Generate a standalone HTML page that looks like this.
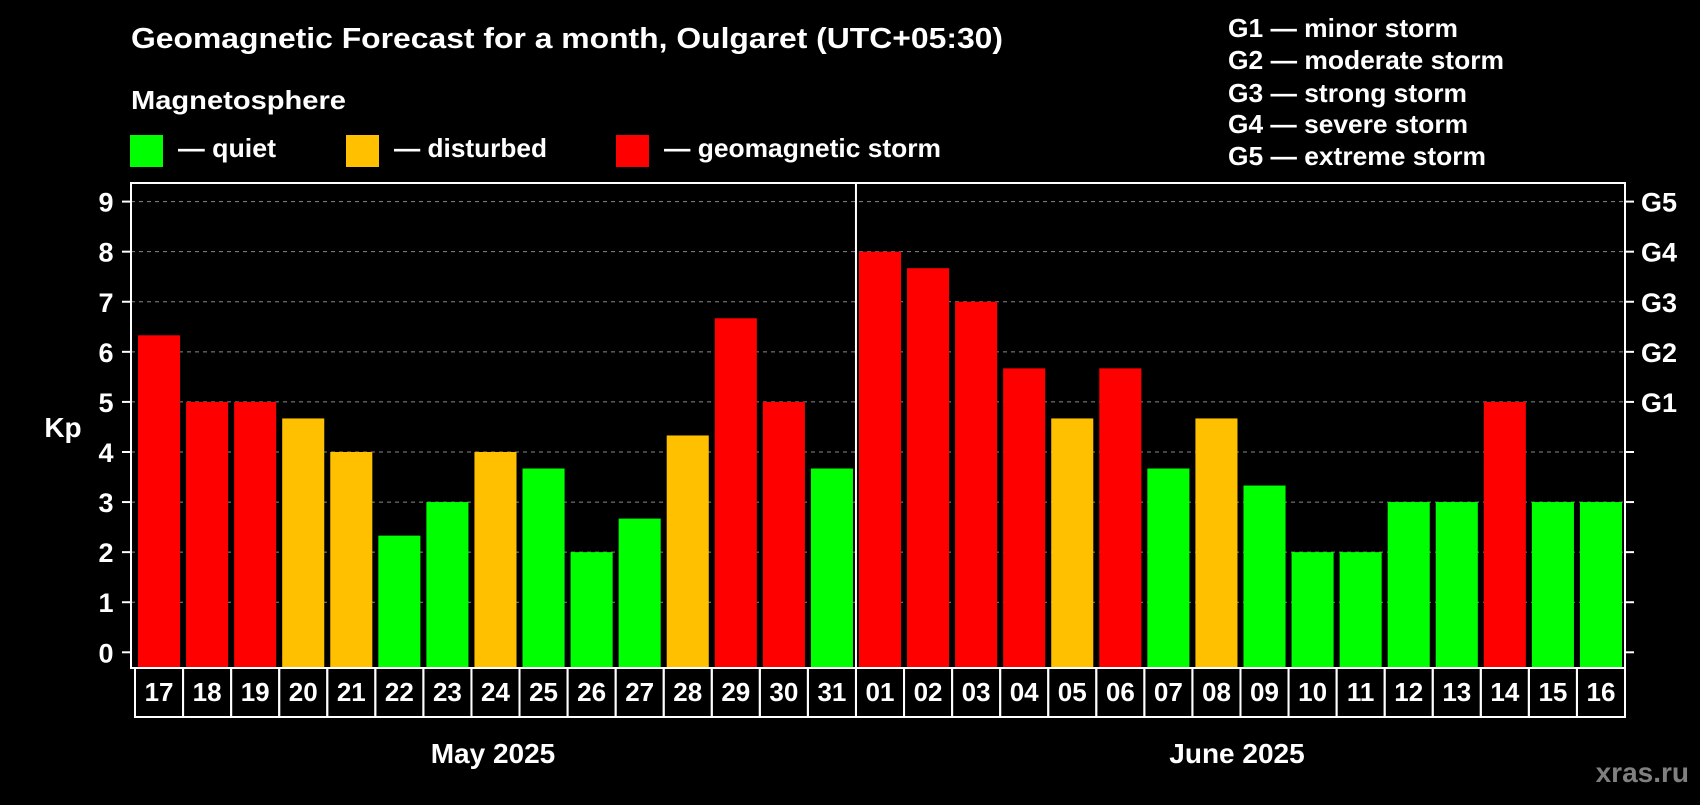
<!DOCTYPE html>
<html><head><meta charset="utf-8"><style>
html,body{margin:0;padding:0;background:#000;}
svg text{font-family:"Liberation Sans",sans-serif;font-weight:bold;fill:#fff;}
</style></head><body>
<svg id="chart" width="1700" height="800" viewBox="0 0 1700 800">
<text x="131" y="48" font-size="29" textLength="872" lengthAdjust="spacingAndGlyphs">Geomagnetic Forecast for a month, Oulgaret (UTC+05:30)</text>
<text x="131" y="109" font-size="26" textLength="215" lengthAdjust="spacingAndGlyphs">Magnetosphere</text>
<g>
<rect x="130" y="135" width="33" height="32" fill="#00ff00"/>
<text x="178" y="157" font-size="26" textLength="98" lengthAdjust="spacingAndGlyphs">— quiet</text>
<rect x="346" y="135" width="33" height="32" fill="#ffc000"/>
<text x="394" y="157" font-size="26" textLength="153" lengthAdjust="spacingAndGlyphs">— disturbed</text>
<rect x="616" y="135" width="33" height="32" fill="#ff0000"/>
<text x="664" y="157" font-size="26" textLength="277" lengthAdjust="spacingAndGlyphs">— geomagnetic storm</text>
</g>
<g font-size="26">
<text x="1228" y="37" textLength="230" lengthAdjust="spacingAndGlyphs">G1 — minor storm</text>
<text x="1228" y="69" textLength="276" lengthAdjust="spacingAndGlyphs">G2 — moderate storm</text>
<text x="1228" y="102" textLength="239" lengthAdjust="spacingAndGlyphs">G3 — strong storm</text>
<text x="1228" y="133" textLength="240" lengthAdjust="spacingAndGlyphs">G4 — severe storm</text>
<text x="1228" y="165" textLength="258" lengthAdjust="spacingAndGlyphs">G5 — extreme storm</text>
</g>
<text x="63" y="437" font-size="28" text-anchor="middle">Kp</text>
<g id="grid"></g><g id="bars"></g><g id="axes"></g><g id="dates"></g>
<text x="493" y="763" font-size="28" text-anchor="middle">May 2025</text>
<text x="1237" y="763" font-size="28" text-anchor="middle">June 2025</text>
<text x="1689" y="782" font-size="28" text-anchor="end" style="fill:#808080">xras.ru</text>
</svg>
<script>
const days = ["17","18","19","20","21","22","23","24","25","26","27","28","29","30","31","01","02","03","04","05","06","07","08","09","10","11","12","13","14","15","16"];
const kpValues = [6.33,5,5,4.67,4,2.33,3,4,3.67,2,2.67,4.33,6.67,5,3.67,8,7.67,7,5.67,4.67,5.67,3.67,4.67,3.33,2,2,3,3,5,3,3];
const yTicks = [0,1,2,3,4,5,6,7,8,9];
const gLabels = ["G1","G2","G3","G4","G5"];
const gLevels = [5,6,7,8,9];
const NS="http://www.w3.org/2000/svg";
const L=131,R=1625,T=183,B=668,Y0=652.3,Y9=201.6,DB=717;
const y=v=>Y0-(Y0-Y9)*v/9;
const slot=(R-L-4)/days.length;
const x=i=>L+2+slot*i;
function mk(tag,attrs,parent,txt){const e=document.createElementNS(NS,tag);for(const k in attrs)e.setAttribute(k,attrs[k]);if(txt!=null)e.textContent=txt;document.getElementById(parent).appendChild(e);return e;}
const color=v=>v>=5?"#ff0000":(v>=4?"#ffc000":"#00ff00");
yTicks.forEach(t=>{
  if(t>0){const g=mk("line",{x1:L,x2:R,y1:y(t),y2:y(t),stroke:"#888","stroke-width":1,"stroke-dasharray":"4,4"},"grid");
  
  }
  const tk=mk("line",{x1:L-9,x2:L,y1:y(t),y2:y(t),stroke:"#fff","stroke-width":2},"axes");
  
  
  const tk2=mk("line",{x1:R,x2:R+9,y1:y(t),y2:y(t),stroke:"#fff","stroke-width":2},"axes");
  
  
  const lb=mk("text",{x:106,y:y(t)+10,"font-size":27,"text-anchor":"middle"},"axes",String(t));
  
  
});
gLabels.forEach((g,i)=>{
  const lb=mk("text",{x:1641,y:y(gLevels[i])+10,"font-size":27},"axes",g);
  
  
});
kpValues.forEach((v,i)=>{
  const r=mk("rect",{x:x(i)+5,y:y(v),width:slot-6,height:B-1-y(v),fill:color(v)},"bars");
  
  
  const bx=mk("rect",{x:x(i)+2,y:B,width:slot,height:DB-B,fill:"none",stroke:"#fff","stroke-width":2},"dates");
  
  
  const t=mk("text",{x:x(i)+2+slot/2,y:B+33,"font-size":26,"text-anchor":"middle"},"dates",days[i]);
  
  
});
const fr=mk("rect",{x:L,y:T,width:R-L,height:B-T,fill:"none",stroke:"#fff","stroke-width":2},"axes");


const dv=mk("line",{x1:x(15)+2,x2:x(15)+2,y1:T,y2:B,stroke:"#fff","stroke-width":2},"axes");


</script>
</body></html>
